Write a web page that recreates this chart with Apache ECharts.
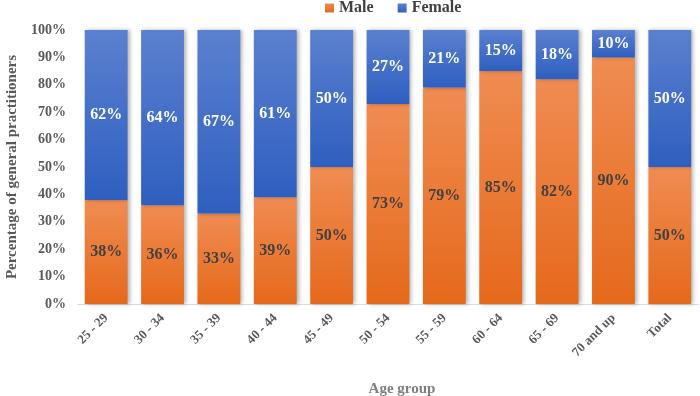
<!DOCTYPE html>
<html>
<head>
<meta charset="utf-8">
<script src="https://cdn.jsdelivr.net/npm/echarts@6/dist/echarts.min.js"></script>
<style>
html, body { margin: 0; padding: 0; background: #fff; }
#main { width: 700px; height: 396px; }
</style>
</head>
<body>
<div id="main"></div>
<script>
var categories = ['25 - 29', '30 - 34', '35 - 39', '40 - 44', '45 - 49', '50 - 54', '55 - 59', '60 - 64', '65 - 69', '70 and up', 'Total'];
var maleData = [38, 36, 33, 39, 50, 73, 79, 85, 82, 90, 50];
var femaleData = [62, 64, 67, 61, 50, 27, 21, 15, 18, 10, 50];

var serif = '"Liberation Serif", "Times New Roman", serif';

function grad(top, bottom) {
    return new echarts.graphic.LinearGradient(0, 0, 0, 1, [
        { offset: 0, color: top },
        { offset: 1, color: bottom }
    ]);
}

var myChart = echarts.init(document.getElementById('main'));
var option = {
    animation: false,
    legend: {
        data: ['Male', 'Female'],
        top: 0,
        left: 325,
        padding: 0,
        itemWidth: 9,
        itemHeight: 9,
        itemGap: 24,
        icon: 'rect',
        textStyle: { fontFamily: serif, fontWeight: 'bold', fontSize: 16, color: '#404040' }
    },
    grid: { left: 78, right: 2, top: 30, bottom: 92, outerBoundsMode: 'none' },
    xAxis: {
        type: 'category',
        data: categories,
        name: 'Age group',
        nameLocation: 'middle',
        nameGap: 78,
        nameTextStyle: { fontFamily: serif, fontWeight: 'bold', fontSize: 15, color: '#7f7f7f', padding: [0, 0, 0, 28] },
        axisTick: { show: false },
        axisLine: { lineStyle: { color: '#d9d9d9', width: 1 } },
        axisLabel: {
            rotate: 45,
            interval: 0,
            margin: 12,
            fontFamily: serif,
            fontWeight: 'bold',
            fontSize: 13,
            color: '#595959'
        }
    },
    yAxis: {
        type: 'value',
        min: 0,
        max: 100,
        interval: 10,
        name: 'Percentage of general practitioners',
        nameLocation: 'middle',
        nameGap: 58,
        nameTextStyle: { fontFamily: serif, fontWeight: 'bold', fontSize: 15, color: '#595959' },
        splitLine: { show: false },
        axisLine: { show: false },
        axisTick: { show: false },
        axisLabel: {
            formatter: '{value}%',
            margin: 12,
            fontFamily: serif,
            fontWeight: 'bold',
            fontSize: 14,
            color: '#595959'
        }
    },
    series: [
        {
            name: 'Male',
            type: 'bar',
            stack: 'total',
            barWidth: '76%',
            data: maleData,
            itemStyle: {
                color: grad('#f08c52', '#e5691b'),
                shadowColor: 'rgba(0,0,0,0.3)',
                shadowBlur: 4,
                shadowOffsetX: 2
            },
            label: {
                show: true,
                position: 'inside',
                formatter: '{c}%',
                fontFamily: serif,
                fontWeight: 'bold',
                fontSize: 16,
                color: '#404040'
            }
        },
        {
            name: 'Female',
            type: 'bar',
            stack: 'total',
            barWidth: '76%',
            data: femaleData,
            itemStyle: {
                color: grad('#5b80cf', '#2e5fc0'),
                shadowColor: 'rgba(0,0,0,0.3)',
                shadowBlur: 4,
                shadowOffsetX: 2
            },
            label: {
                show: true,
                position: 'inside',
                formatter: '{c}%',
                fontFamily: serif,
                fontWeight: 'bold',
                fontSize: 16,
                color: '#ffffff'
            }
        }
    ]
};
myChart.setOption(option);
</script>
</body>
</html>
